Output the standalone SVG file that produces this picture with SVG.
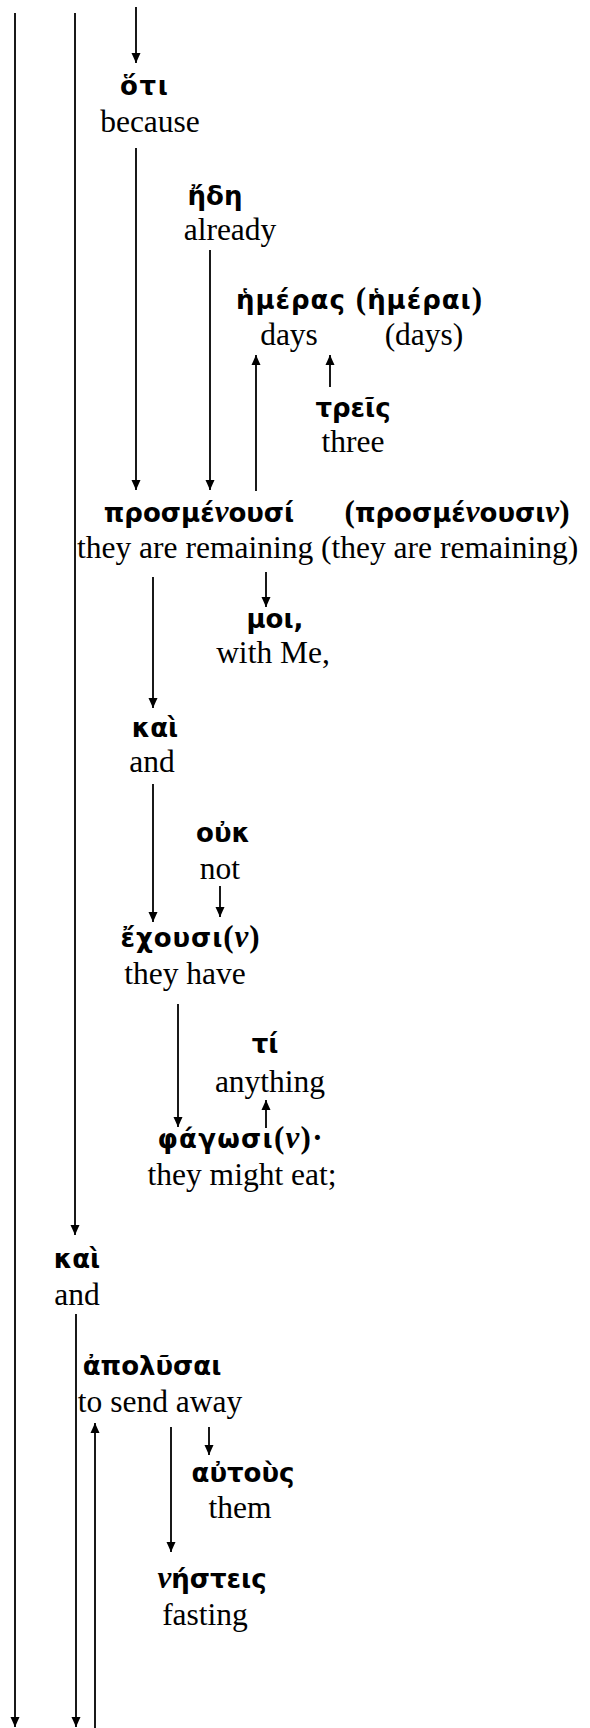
<svg xmlns="http://www.w3.org/2000/svg" width="590" height="1728" viewBox="0 0 590 1728">
<style>
.g{font-family:"DejaVu Sans","Noto Sans",sans-serif;font-weight:bold;font-size:26px;text-anchor:middle;fill:#000}
.e{font-family:"Liberation Serif","Times New Roman",serif;font-size:31.5px;text-anchor:middle;fill:#000}
.p{font-family:"Liberation Serif","Times New Roman",serif;font-weight:bold;font-size:31px}
.nu{font-family:"Liberation Serif","Times New Roman",serif;font-weight:bold;font-style:italic;font-size:31px}
.c line{stroke:#000;stroke-width:1.8;fill:none}
</style>
<defs>
<marker id="ah" markerUnits="userSpaceOnUse" markerWidth="10" markerHeight="10" viewBox="0 0 10 9" refX="10" refY="4.5" orient="auto">
<path d="M0,0 L10,4.5 L0,9 z" fill="#000"/>
</marker>
</defs>
<rect width="590" height="1728" fill="#fff"/>
<g id="connectors" class="c">
<line x1="15" y1="13" x2="15" y2="1727" marker-end="url(#ah)"/>
<line x1="75" y1="13" x2="75" y2="1235" marker-end="url(#ah)"/>
<line x1="136" y1="7" x2="136" y2="63" marker-end="url(#ah)"/>
<line x1="136" y1="148" x2="136" y2="490" marker-end="url(#ah)"/>
<line x1="210" y1="250" x2="210" y2="490" marker-end="url(#ah)"/>
<line x1="256" y1="491" x2="256" y2="355" marker-end="url(#ah)"/>
<line x1="330" y1="387" x2="330" y2="355" marker-end="url(#ah)"/>
<line x1="266" y1="572" x2="266" y2="607" marker-end="url(#ah)"/>
<line x1="153" y1="577" x2="153" y2="708" marker-end="url(#ah)"/>
<line x1="153" y1="784" x2="153" y2="922" marker-end="url(#ah)"/>
<line x1="220" y1="886" x2="220" y2="917" marker-end="url(#ah)"/>
<line x1="178" y1="1004" x2="178" y2="1127" marker-end="url(#ah)"/>
<line x1="266" y1="1128" x2="266" y2="1100" marker-end="url(#ah)"/>
<line x1="76" y1="1314" x2="76" y2="1727" marker-end="url(#ah)"/>
<line x1="95" y1="1728" x2="95" y2="1423" marker-end="url(#ah)"/>
<line x1="209" y1="1427" x2="209" y2="1455" marker-end="url(#ah)"/>
<line x1="171" y1="1427" x2="171" y2="1552" marker-end="url(#ah)"/>
</g>
<g id="n-oti"><text class="g" x="144" y="95" textLength="48" lengthAdjust="spacing">ὅτι</text><text class="e" x="150" y="132">because</text></g>
<g id="n-ede"><text class="g" x="215" y="205">ἤδη</text><text class="e" x="230" y="240">already</text></g>
<g id="n-hemeras"><text class="g" x="236" y="309" style="text-anchor:start" textLength="246" lengthAdjust="spacing">ἡμέρας <tspan class="p">(</tspan>ἡμέραι<tspan class="p">)</tspan></text><text class="e" x="289" y="345">days</text><text class="e" x="424" y="345">(days)</text></g>
<g id="n-treis"><text class="g" x="353" y="417">τρεῖς</text><text class="e" x="353" y="452">three</text></g>
<g id="n-prosmenousi"><text class="g" x="199" y="522">προσμέ<tspan class="nu">ν</tspan>ουσί</text><text class="g" x="457" y="522"><tspan class="p">(</tspan>προσμέ<tspan class="nu">ν</tspan>ουσι<tspan class="nu">ν</tspan><tspan class="p">)</tspan></text><text class="e" x="77" y="558" style="text-anchor:start">they are remaining (they are remaining)</text></g>
<g id="n-moi"><text class="g" x="275" y="628">μοι,</text><text class="e" x="273" y="663">with Me,</text></g>
<g id="n-kai1"><text class="g" x="155" y="737">καὶ</text><text class="e" x="152" y="772">and</text></g>
<g id="n-ouk"><text class="g" x="223" y="842">οὐκ</text><text class="e" x="220" y="879">not</text></g>
<g id="n-echousi"><text class="g" x="190" y="947" textLength="139" lengthAdjust="spacing">ἔχουσι<tspan class="p">(</tspan><tspan class="nu">ν</tspan><tspan class="p">)</tspan></text><text class="e" x="185" y="984">they have</text></g>
<g id="n-ti"><text class="g" x="265" y="1053">τί</text><text class="e" x="270" y="1092">anything</text></g>
<g id="n-phagosi"><text class="g" x="240" y="1148" textLength="165" lengthAdjust="spacing">φάγωσι<tspan class="p">(</tspan><tspan class="nu">ν</tspan><tspan class="p">)·</tspan></text><text class="e" x="242" y="1185">they might eat;</text></g>
<g id="n-kai2"><text class="g" x="77" y="1268">καὶ</text><text class="e" x="77" y="1305">and</text></g>
<g id="n-apolusai"><text class="g" x="152" y="1375">ἀπολῦσαι</text><text class="e" x="160" y="1412">to send away</text></g>
<g id="n-autous"><text class="g" x="243" y="1482">αὐτοὺς</text><text class="e" x="240" y="1518">them</text></g>
<g id="n-nesteis"><text class="g" x="212" y="1588"><tspan class="nu">ν</tspan>ήστεις</text><text class="e" x="205" y="1625">fasting</text></g>
</svg>
